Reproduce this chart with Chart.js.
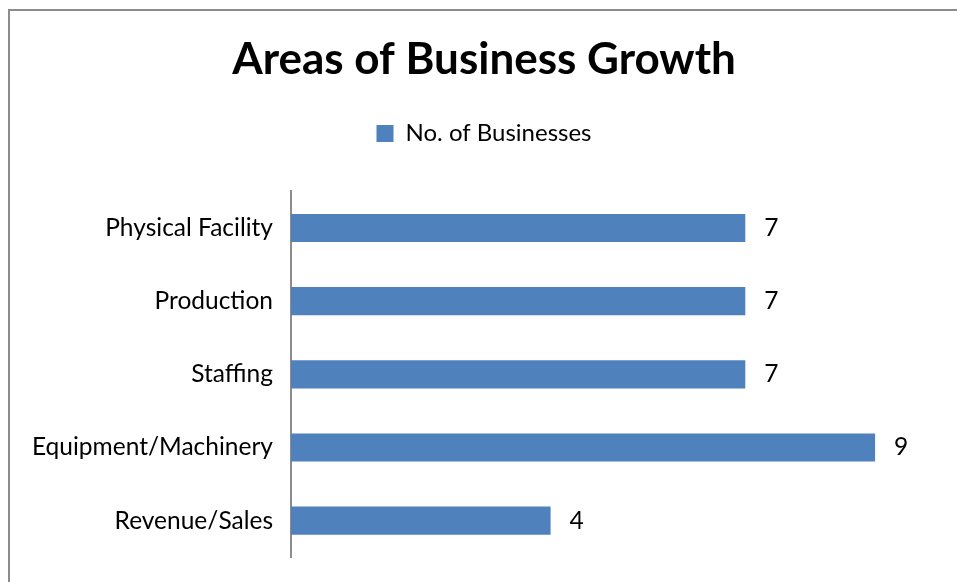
<!DOCTYPE html>
<html>
<head>
<meta charset="utf-8">
<script src="https://cdn.jsdelivr.net/npm/chart.js@4/dist/chart.umd.min.js"></script>
<style>
  html, body { margin: 0; padding: 0; background: #fff; overflow: hidden; }
  #wrap { position: relative; width: 957px; height: 582px; }
  #frame { position: absolute; left: 8px; top: 9px; width: 1200px; height: 1200px; border: 2px solid #8c8c8c; box-sizing: border-box; }
  canvas { position: absolute; left: 0; top: 0; }
</style>
</head>
<body>
<div id="wrap">
  <div id="frame"></div>
  <canvas id="chart" width="957" height="582"></canvas>
</div>
<script>
// chart data
const categories = ['Physical Facility', 'Production', 'Staffing', 'Equipment/Machinery', 'Revenue/Sales'];
const businesses = [7, 7, 7, 9, 4];
const seriesName = 'No. of Businesses';
const FONT = 'Lato, "Open Sans", sans-serif';

// value labels at the end of each bar
const barLabels = {
    id: 'barLabels',
    afterDatasetsDraw(chart) {
        const ctx = chart.ctx;
        const meta = chart.getDatasetMeta(0);
        ctx.save();
        ctx.font = '24.5px ' + FONT;
        ctx.fillStyle = '#000';
        ctx.textAlign = 'left';
        ctx.textBaseline = 'middle';
        meta.data.forEach((bar, i) => {
            ctx.fillText(String(businesses[i]), bar.x + 19, bar.y);
        });
        ctx.restore();
    }
};

// extra space below the legend
const legendGap = {
    id: 'legendGap',
    beforeInit(chart) {
        const fit = chart.legend.fit;
        chart.legend.fit = function () {
            fit.call(this);
            this.height += 36;
        };
    }
};

new Chart(document.getElementById('chart').getContext('2d'), {
    type: 'bar',
    data: {
        labels: categories,
        datasets: [{
            label: seriesName,
            data: businesses,
            backgroundColor: '#4F81BD',
            borderWidth: 0,
            categoryPercentage: 1,
            barPercentage: 0.385,
        }]
    },
    options: {
        indexAxis: 'y',
        responsive: false,
        animation: false,
        layout: { padding: { top: 26, right: 17, bottom: 17, left: 28 } },
        scales: {
            x: { display: false, min: 0, max: 10 },
            y: {
                grid: { display: false },
                border: { display: true, color: '#8c8c8c', width: 2 },
                ticks: { color: '#000', padding: 10, font: { family: FONT, size: 24.5 } },
                afterFit: s => { s.width = 263; }
            }
        },
        plugins: {
            title: {
                display: true,
                text: 'Areas of Business Growth',
                color: '#000',
                font: { family: FONT, size: 44, weight: 'bold', lineHeight: 1.1 },
                padding: { top: 10, bottom: 27 }
            },
            legend: {
                labels: {
                    color: '#000',
                    font: { family: FONT, size: 24 },
                    boxWidth: 17, boxHeight: 17, padding: 10
                }
            },
            tooltip: { enabled: false }
        }
    },
    plugins: [barLabels, legendGap]
});
</script>
</body>
</html>
